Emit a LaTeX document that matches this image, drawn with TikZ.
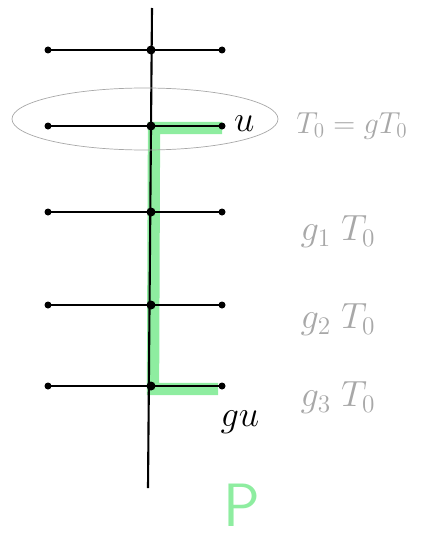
\documentclass[tikz,border=0pt]{standalone}
\usetikzlibrary{positioning}
\definecolor{markergreen}{HTML}{8EEDA0}
\definecolor{pencilgray}{HTML}{A8A8A8}
\begin{document}
\begin{tikzpicture}[x=0.02cm, y=-0.02cm]
    \useasboundingbox (0, 0) rectangle (428, 537);
    % green path first, so the black lines lie on top
    \coordinate (U) at (222, 128);
    \coordinate (C1) at (154, 128);
    \coordinate (C4) at (153, 389);
    \coordinate (GU) at (218, 389);
    \draw[line width=7pt, markergreen] (U) -- (C1) -- (C4) -- (GU);
    % vertical line
    \coordinate (top) at (152, 8);
    \coordinate (bot) at (148, 488);
    \draw[line width=1.2pt] (top) -- (bot);
    % rungs
    \foreach \y/\n in {50/0, 126/1, 212/2, 305/3, 386/4} {
        \coordinate (L\n) at (48, \y);
        \coordinate (M\n) at (151, \y);
        \coordinate (R\n) at (222, \y);
        \draw[line width=1.2pt] (L\n) -- (R\n);
        \fill (L\n) circle (3.5);
        \fill (M\n) circle (4.5);
        \fill (R\n) circle (3.5);
    }
    % the circled rung
    \draw[pencilgray, thin] (145, 119) ellipse (133 and 31);
    \node[right] (u) at (228, 124) {\huge $u$};
    \node (gu) at (240, 422) {\huge $gu$};
    \node[text=markergreen, scale=1.4] (P) at (242, 505) {\Huge $\mathsf{P}$};
    % labels on the right
    \node[text=pencilgray] (t0) at (352, 126) {\LARGE $T_0 = gT_0$};
    \node[text=pencilgray] (t1) at (338, 232) {\huge $g_1\;T_0$};
    \node[text=pencilgray] (t2) at (338, 320) {\huge $g_2\;T_0$};
    \node[text=pencilgray] (t3) at (338, 398) {\huge $g_3\;T_0$};
\end{tikzpicture}
\end{document}
